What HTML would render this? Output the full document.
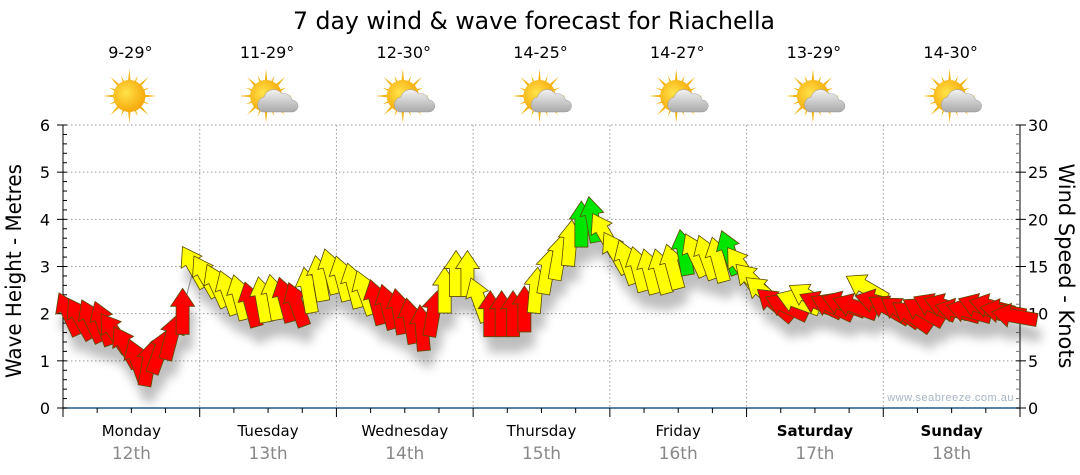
<!DOCTYPE html>
<html><head><meta charset="utf-8">
<style>
html,body{margin:0;padding:0;background:#fff;}
svg{display:block;font-family:"Liberation Sans","DejaVu Sans",sans-serif;}
</style></head>
<body>
<svg id="chart" width="1080" height="475" viewBox="0 0 1080 475" xmlns="http://www.w3.org/2000/svg">
<defs>
<filter id="shadow" x="-50%" y="-50%" width="200%" height="200%">
<feGaussianBlur stdDeviation="5"/>
</filter>
<radialGradient id="sunG" cx="0.4" cy="0.4" r="0.7"><stop offset="0" stop-color="#ffe24a"/><stop offset="1" stop-color="#f5a000"/></radialGradient>
<linearGradient id="cloudG" x1="0" y1="0" x2="0" y2="1"><stop offset="0" stop-color="#f2f2f2"/><stop offset="1" stop-color="#a9a9a9"/></linearGradient>
</defs>
<text x="534" y="29" font-size="24" text-anchor="middle" font-family="DejaVu Sans, sans-serif" fill="#000" textLength="482" lengthAdjust="spacingAndGlyphs">7 day wind &amp; wave forecast for Riachella</text>
<g id="grid"></g>
<g id="axes"></g>
<g id="header"></g>
<g id="shadows" filter="url(#shadow)" opacity="0.25"></g>
<g id="line"></g>
<g id="arrows"></g>
<text transform="translate(21,271) rotate(-90)" font-size="21" text-anchor="middle" font-family="DejaVu Sans, sans-serif" textLength="214" lengthAdjust="spacingAndGlyphs">Wave Height - Metres</text>
<text transform="translate(1059,266) rotate(90)" font-size="21" text-anchor="middle" font-family="DejaVu Sans, sans-serif" textLength="205" lengthAdjust="spacingAndGlyphs">Wind Speed - Knots</text>
<text x="1014" y="401" font-size="11" text-anchor="end" fill="#a8b4c4" letter-spacing="0.5">www.seabreeze.com.au</text>
</svg>
<script>
const days = ["Monday","Tuesday","Wednesday","Thursday","Friday","Saturday","Sunday"];
const dates = ["12th","13th","14th","15th","16th","17th","18th"];
const temps = ["9-29°","11-29°","12-30°","14-25°","14-27°","13-29°","14-30°"];
const cloudy = [false,true,true,true,true,true,true];
const waveTicks = [0,1,2,3,4,5,6];
const windTicks = [0,5,10,15,20,25,30];
// wave height (m), 2-hourly, 12 per day
const waveHeight = [
 2.0,1.9,1.85,1.8,1.6,1.3,1.0,0.95,1.2,1.5,2.05,3.0,
 2.8,2.6,2.45,2.35,2.2,2.3,2.35,2.3,2.2,2.5,2.75,2.9,
 2.75,2.6,2.45,2.25,2.15,2.05,1.85,1.7,2.0,2.5,2.85,2.85,
 2.3,2.0,2.0,2.0,2.1,2.5,2.9,3.2,3.5,3.9,4.0,3.7,
 3.3,3.1,2.95,2.9,2.9,3.0,3.3,3.25,3.2,3.15,3.3,3.0,
 2.7,2.45,2.2,2.15,2.25,2.35,2.2,2.15,2.2,2.15,2.55,2.25,
 2.1,2.05,1.95,2.05,2.15,2.15,2.05,2.05,2.15,2.15,2.05,1.95
];
// wind speed (knots)
const windSpeed = [
 10,10,10,10,10,9,9,9,10,10,11,13,
 13,13,13,13,11,13,13,11,11,13,14,14,
 14,14,13,11,11,11,11,11,11,13,14,14,
 13,11,11,11,11,13,15,16,17,19,19,17,
 16,15,15,15,15,16,19,16,16,15,19,15,
 14,13,11,11,13,14,11,11,11,11,13,11,
 11,11,11,11,11,11,11,11,11,11,11,11
];
// wind arrow direction (degrees clockwise from up)
const windDir = [
 -25,-30,-25,-20,-35,-30,-20,10,20,15,0,-30,
 -30,-25,-20,-15,-15,-10,-10,-15,-20,-10,-10,-15,
 -15,-15,-20,-15,-15,-10,-10,-5,10,0,0,0,
 -20,0,0,0,0,5,10,10,5,0,-10,-30,
 -30,-20,-15,-15,-15,-15,-10,-25,-20,-15,-20,-35,
 -45,-50,-50,-65,-70,-60,-65,-65,-70,-70,-60,-75,
 -60,-55,-55,-60,-65,-70,-75,-75,-70,-75,-80,-80
];

const NS="http://www.w3.org/2000/svg";
const X0=63, X1=1020, Y0=408, Y1=125;
const perDay=12, dayW=(X1-X0)/7;
function xPos(i){return X0+(i+0.5)*dayW/perDay;}
function yWave(v){return Y0-(v/6)*(Y0-Y1);}
function yWind(v){return Y0-(v/30)*(Y0-Y1);}
function mk(tag,attrs,parent){const e=document.createElementNS(NS,tag);for(const k in attrs)e.setAttribute(k,attrs[k]);parent.appendChild(e);return e;}
const grid=document.getElementById('grid'),axes=document.getElementById('axes'),header=document.getElementById('header');

waveTicks.forEach(t=>{ if(t===0)return;
 const l=mk('line',{x1:X0,x2:X1,y1:yWave(t),y2:yWave(t),stroke:'#999','stroke-dasharray':'1.5,2.5','stroke-width':1},grid);
  });
for(let d=1;d<7;d++){const x=X0+d*dayW;
 const l=mk('line',{x1:x,x2:x,y1:Y1,y2:Y0,stroke:'#999','stroke-dasharray':'1.5,2.5','stroke-width':1},grid);
  }

mk('line',{x1:X0,x2:X0,y1:Y1,y2:Y0,stroke:'#000'},axes);
mk('line',{x1:X1,x2:X1,y1:Y1,y2:Y0,stroke:'#000'},axes);
mk('line',{x1:X0,x2:X1,y1:Y0,y2:Y0,stroke:'#1f5a85','stroke-width':1.5},axes);
for(let v=0;v<=6.001;v+=0.2){const y=yWave(v);const major=Math.abs(v-Math.round(v))<0.01;
 mk('line',{x1:major?X0-6:X0,x2:X0+4,y1:y,y2:y,stroke:'#000'},axes);}
for(let v=0;v<=30;v+=1){const y=yWind(v);const major=v%5===0;
 mk('line',{x1:X1-4,x2:major?X1+6:X1,y1:y,y2:y,stroke:major?'#000':'#777'},axes);}
waveTicks.forEach(t=>{const e=mk('text',{x:50,y:yWave(t)+6,'font-size':16,'text-anchor':'end','font-family':'DejaVu Sans, sans-serif'},axes);e.textContent=t;
  });
windTicks.forEach(t=>{const e=mk('text',{x:1028,y:yWind(t)+6,'font-size':16,'font-family':'DejaVu Sans, sans-serif'},axes);e.textContent=t;
  });
for(let q=0;q<=28;q++){const x=X0+q*dayW/4;const major=q%4===0;
 mk('line',{x1:x,x2:x,y1:Y0,y2:Y0+(major?9:5),stroke:'#000'},axes);}

days.forEach((d,i)=>{const cx=X0+(i+0.5)*dayW;const wk=i>=5;
 const t=mk('text',{x:cx,y:436,'font-size':15,'text-anchor':'middle','font-weight':wk?'bold':'normal','font-family':'DejaVu Sans, sans-serif'},axes);t.textContent=d;
  
 const t2=mk('text',{x:cx,y:459,'font-size':17,'text-anchor':'middle',fill:'#888','font-family':'DejaVu Sans, sans-serif'},axes);t2.textContent=dates[i];
  
 const t3=mk('text',{x:cx-1,y:58,'font-size':16,'text-anchor':'middle','font-family':'DejaVu Sans, sans-serif'},header);t3.textContent=temps[i];
  
 const g=mk('g',{transform:`translate(${cx-2},96)`},header);
  
 for(let r=0;r<16;r++){const a=r*22.5, L=r%2?22:27;
  mk('polygon',{points:`-3,0 3,0 0,${-L}`,fill:'#f3b415',transform:`rotate(${a})`},g);}
 mk('circle',{r:16,fill:'url(#sunG)'},g);
 if(cloudy[i]){const c=mk('g',{transform:'translate(10,4)'},g);
  mk('path',{d:'M-14,12 a8,8 0 0 1 2,-15 a10,10 0 0 1 18,-3 a8,8 0 0 1 10,6 a6,6 0 0 1 0,12 z',fill:'url(#cloudG)',stroke:'#999','stroke-width':0.5},c);}
});

const line=document.getElementById('line');
let pd='';waveHeight.forEach((v,i)=>{pd+=(i?'L':'M')+xPos(i).toFixed(1)+','+yWave(v).toFixed(1);});
const pl=mk('path',{d:pd,fill:'none',stroke:'#888','stroke-width':1},line);
 

const arrowPath='M0,-23 L12,-5 L6.5,-5 L6.5,23 L-6.5,23 L-6.5,-5 L-12,-5 Z';
const arrows=document.getElementById('arrows'),shadows=document.getElementById('shadows');
function colorFor(s){return s>=18?'#00e600':(s>=12?'#ffff00':'#ff0000');}
waveHeight.forEach((v,i)=>{
 const x=xPos(i),y=yWave(v),a=windDir[i];
 mk('path',{d:arrowPath,fill:'#000',transform:`translate(${x+4},${y+16}) rotate(${a})`},shadows);
 const p=mk('path',{d:arrowPath,fill:colorFor(windSpeed[i]),stroke:'#5a4a00','stroke-width':0.8,transform:`translate(${x},${y}) rotate(${a})`},arrows);
 
 
});
</script>
</body></html>
